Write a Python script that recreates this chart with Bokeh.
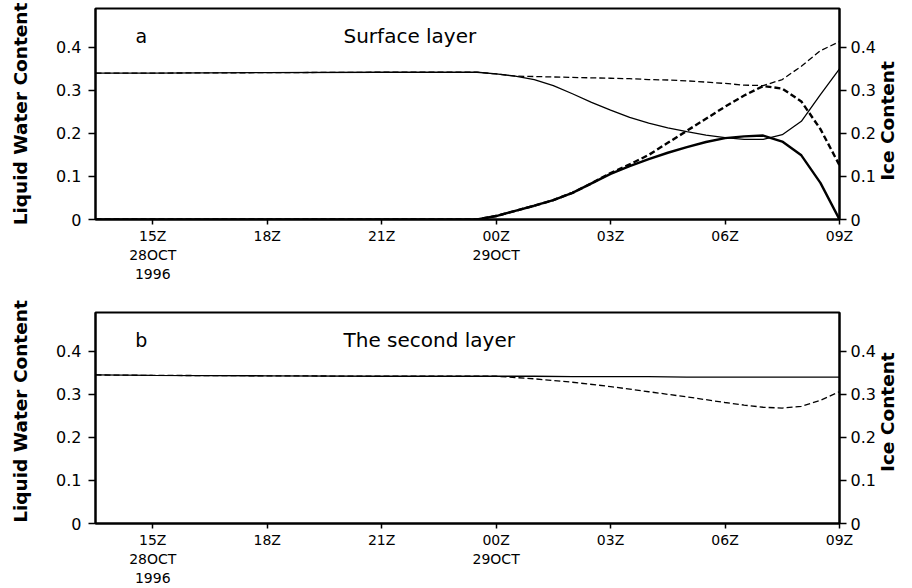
import math
from bokeh.plotting import figure
from bokeh.layouts import column
from bokeh.models import Range1d, LinearAxis, FixedTicker, Label
from bokeh.embed import file_html
from bokeh.resources import INLINE

# ---------------- data (hours since 00Z 28 OCT 1996) ----------------
hours_a = [13.5, 15, 18, 21, 23.5, 24, 24.5, 25, 25.5, 26, 26.5, 27, 27.5,
           28, 28.5, 29, 29.5, 30, 30.5, 31, 31.5, 32, 32.5, 33]
# surface layer, liquid water content (thin lines)
lwc_surf_solid = [0.340, 0.340, 0.341, 0.342, 0.342, 0.338, 0.333, 0.325, 0.311,
                  0.292, 0.272, 0.254, 0.237, 0.224, 0.213, 0.204, 0.196, 0.190,
                  0.186, 0.186, 0.197, 0.228, 0.290, 0.350]
lwc_surf_dash = [0.340, 0.340, 0.341, 0.342, 0.342, 0.338, 0.333, 0.332, 0.331,
                 0.330, 0.329, 0.328, 0.327, 0.325, 0.324, 0.322, 0.319, 0.316,
                 0.312, 0.311, 0.325, 0.356, 0.392, 0.413]
# surface layer, ice content (thick lines)
ice_surf_solid = [0.0, 0.0, 0.0, 0.0, 0.0, 0.008, 0.020, 0.032, 0.045, 0.062,
                  0.084, 0.106, 0.124, 0.140, 0.155, 0.168, 0.180, 0.189, 0.193,
                  0.195, 0.181, 0.149, 0.085, 0.0]
ice_surf_dash = [0.0, 0.0, 0.0, 0.0, 0.0, 0.008, 0.020, 0.032, 0.045, 0.062,
                 0.084, 0.108, 0.128, 0.150, 0.178, 0.206, 0.234, 0.262, 0.288,
                 0.310, 0.304, 0.274, 0.210, 0.126]

hours_b = [13.5, 15, 18, 21, 24, 24.5, 25, 26, 27, 28, 29, 30, 30.5, 31, 31.5,
           32, 32.5, 33]
lwc_second_solid = [0.345, 0.344, 0.343, 0.342, 0.342, 0.342, 0.342, 0.341, 0.341,
                    0.341, 0.340, 0.340, 0.340, 0.340, 0.340, 0.340, 0.340, 0.340]
lwc_second_dash = [0.345, 0.344, 0.343, 0.342, 0.342, 0.339, 0.336, 0.328, 0.318,
                   0.306, 0.294, 0.281, 0.275, 0.270, 0.268, 0.272, 0.286, 0.306]

xtick_pos = [15, 18, 21, 24, 27, 30, 33]
xtick_labels = ["15Z\n28OCT\n1996", "18Z", "21Z", "00Z\n29OCT", "03Z", "06Z", "09Z"]
ytick_pos = [0.0, 0.1, 0.2, 0.3, 0.4]
ytick_labels = ["0", "0.1", "0.2", "0.3", "0.4"]

FONT = "DejaVu Sans"
NB = "\u00a0"


def style_axis(ax, size="15px", tick_out=7, standoff=5):
    ax.axis_line_width = 2
    ax.axis_line_color = "black"
    ax.major_tick_line_width = 1.5
    ax.major_tick_line_color = "black"
    ax.major_tick_in = 0
    ax.major_tick_out = tick_out
    ax.minor_tick_line_color = None
    ax.major_label_text_font = FONT
    ax.major_label_text_font_size = size
    ax.major_label_text_color = "black"
    ax.major_label_standoff = standoff
    ax.axis_label_text_font = FONT
    ax.axis_label_text_font_style = "bold"
    ax.axis_label_text_font_size = "18.5px"
    ax.axis_label_text_color = "black"


def make_panel(height, top, bottom, letter, title, left_label, right_label):
    p = figure(width=912, height=height,
               x_range=Range1d(13.5, 33), y_range=Range1d(0, 0.49),
               output_backend="svg", toolbar_location=None,
               min_border_left=95, min_border_right=73,
               min_border_top=top, min_border_bottom=bottom)
    p.background_fill_color = "white"
    p.border_fill_color = "white"
    p.outline_line_color = "black"
    p.outline_line_width = 2
    p.xgrid.visible = False
    p.ygrid.visible = False

    p.xaxis.ticker = FixedTicker(ticks=xtick_pos)
    p.xaxis.major_label_overrides = {k: v for k, v in zip(xtick_pos, xtick_labels)}
    for ax in p.xaxis:
        style_axis(ax, size="14px", tick_out=5, standoff=3)
    p.yaxis.ticker = FixedTicker(ticks=ytick_pos)
    p.yaxis.major_label_overrides = {k: v for k, v in zip(ytick_pos, ytick_labels)}
    p.yaxis.axis_label = left_label
    for ax in p.yaxis:
        style_axis(ax, size="16px", standoff=7)
    p.yaxis.axis_label_standoff = 22

    p.extra_y_ranges = {"ice": Range1d(0, 0.49)}
    ax2 = LinearAxis(y_range_name="ice", axis_label=right_label,
                     ticker=FixedTicker(ticks=ytick_pos),
                     major_label_overrides={k: v for k, v in zip(ytick_pos, ytick_labels)})
    style_axis(ax2, size="16px", standoff=4)
    ax2.axis_label_standoff = 9
    ax2.axis_label_orientation = math.pi / 2
    ax2.axis_label_align = "start"
    p.add_layout(ax2, "right")

    p.add_layout(Label(x=14.7, y=0.425, text=letter, text_font=FONT,
                       text_font_size="19px", text_align="center",
                       text_baseline="middle", text_color="black"))
    p.add_layout(Label(x=20.0, y=0.425, text=title, text_font=FONT,
                       text_font_size="20px", text_align="left",
                       text_baseline="middle", text_color="black"))
    return p


pa = make_panel(294, 8, 75, "a", "Surface layer",
                "Liquid Water Content", NB * 6 + "Ice Content")
pa.line(hours_a, lwc_surf_dash, line_color="black", line_width=1.3, line_dash="6 3")
pa.line(hours_a, ice_surf_dash, line_color="black", line_width=2.4, line_dash="6 3")
pa.line(hours_a, lwc_surf_solid, line_color="black", line_width=1.3)
pa.line(hours_a, ice_surf_solid, line_color="black", line_width=2.4)

pb = make_panel(294, 18, 65, "b", "The second layer",
                NB * 2 + "Liquid Water Content", NB * 8 + "Ice Content")
pb.line(hours_b, lwc_second_dash, line_color="black", line_width=1.3, line_dash="6 3")
pb.line(hours_b, lwc_second_solid, line_color="black", line_width=1.3)

layout = column(pa, pb)
open("out.html", "w").write(file_html(layout, INLINE))
